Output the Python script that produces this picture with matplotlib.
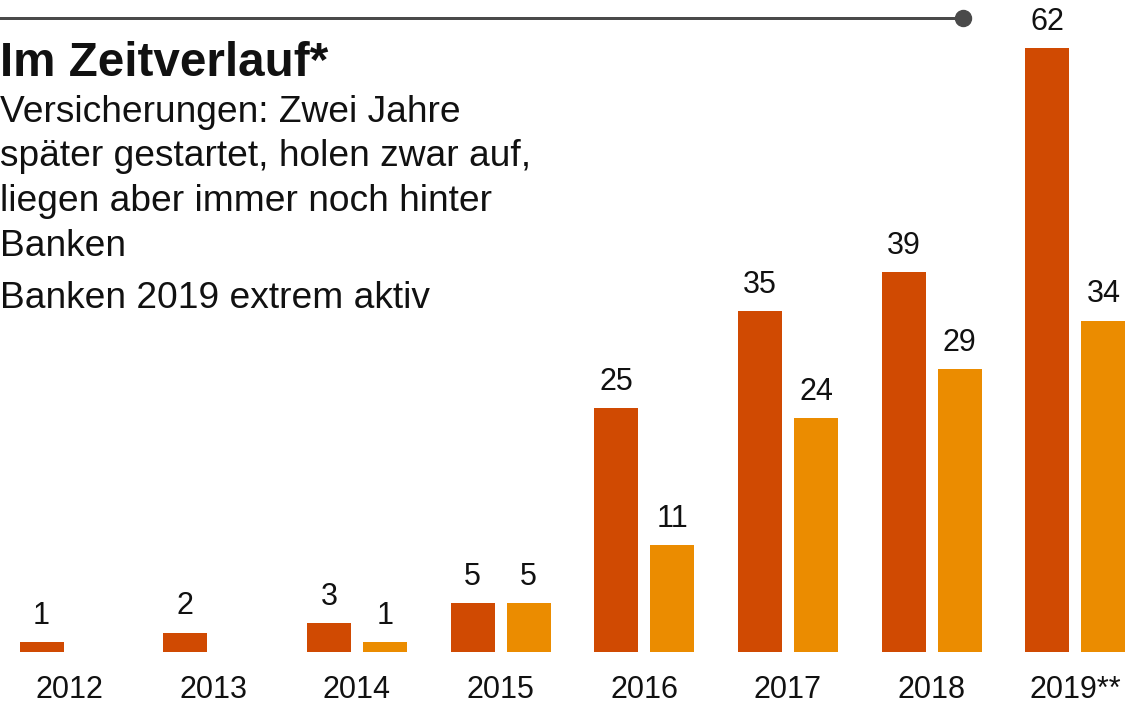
import matplotlib
matplotlib.use("Agg")
import matplotlib.pyplot as plt
from matplotlib.lines import Line2D
import numpy as np

years = ["2012", "2013", "2014", "2015", "2016", "2017", "2018", "2019**"]
banken = [1, 2, 3, 5, 25, 35, 39, 62]
versicherungen = [0, 0, 1, 5, 11, 24, 29, 34]

title = "Im Zeitverlauf*"
subtitle_lines = ["Versicherungen: Zwei Jahre", "später gestartet, holen zwar auf,",
                  "liegen aber immer noch hinter", "Banken"]
note = "Banken 2019 extrem aktiv"

C_BANK = "#D04A02"
C_VERS = "#EB8C00"

plt.rcParams['font.family'] = ['Liberation Sans', 'DejaVu Sans']

W, H = 1148, 704
fig = plt.figure(figsize=(W / 100, H / 100), dpi=100)
px = 72 / 100  # points per pixel

base_px = 652
ax = fig.add_axes([0, (H - base_px) / H, 1, base_px / H])
scale = 9.75
pitch = 143.7
c0 = 69.5
ax.set_ylim(0, base_px / scale)
ax.set_xlim((0 - c0) / pitch, (W - c0) / pitch)
ax.axis('off')

x = np.arange(len(years))
off = 28 / pitch
bw = 44 / pitch
ax.bar(x - off, banken, width=bw, color=C_BANK)
ax.bar(x + off, versicherungen, width=bw, color=C_VERS)

for xi, v in zip(x, banken):
    if v > 0:
        ax.annotate(str(v), (xi - off, v), xytext=(0, 18 * px), textcoords='offset points',
                    ha='center', va='baseline', fontsize=22, color='#111111')
for xi, v in zip(x, versicherungen):
    if v > 0:
        ax.annotate(str(v), (xi + off, v), xytext=(0, 18 * px), textcoords='offset points',
                    ha='center', va='baseline', fontsize=22, color='#111111')
for xi, y in zip(x, years):
    ax.annotate(y, (xi, 0), xytext=(0, -46 * px), textcoords='offset points',
                ha='center', va='baseline', fontsize=22, color='#111111', annotation_clip=False)

# top rule with dot
fig.add_artist(Line2D([0, 963 / W], [1 - 18 / H, 1 - 18 / H], transform=fig.transFigure,
                      color='#4a4a4a', lw=3 * px))
fig.add_artist(Line2D([963 / W], [1 - 18 / H], transform=fig.transFigure, marker='o',
                      markersize=16 * px, color='#4a4a4a', lw=0))

fig.text(0, 1 - 75.5 / H, title, fontsize=34.3, fontweight='bold', ha='left', va='baseline',
         color='#111111')
for i, line in enumerate(subtitle_lines):
    fig.text(0, 1 - (122 + 44.5 * i) / H, line, fontsize=26.7, ha='left', va='baseline',
             color='#111111')
fig.text(0, 1 - 307.5 / H, note, fontsize=26.7, ha='left', va='baseline', color='#111111')

fig.savefig("out.png", dpi=100)
